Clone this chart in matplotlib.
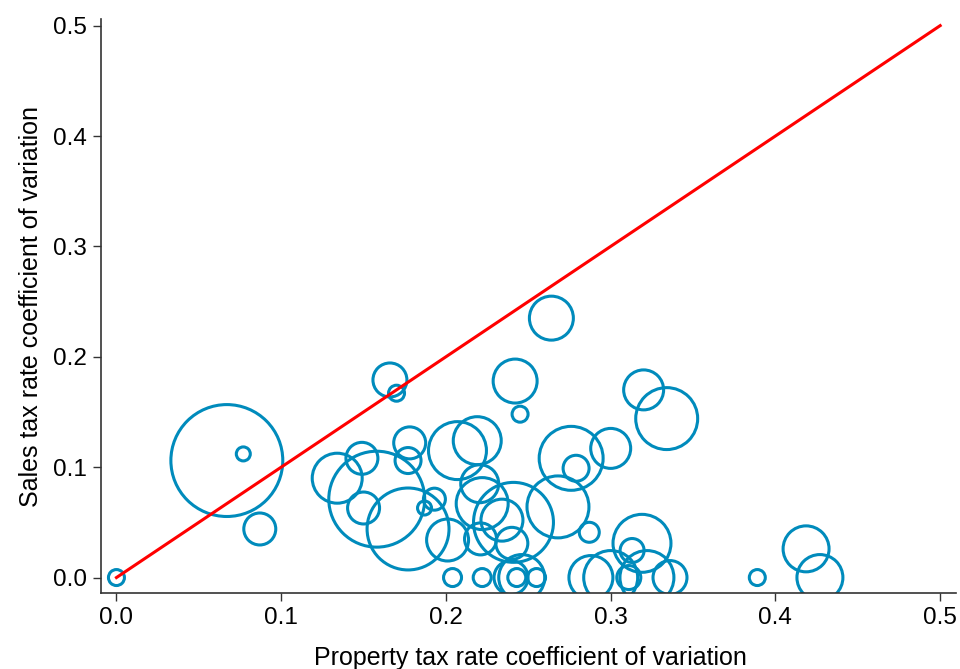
import matplotlib
matplotlib.use('Agg')
import matplotlib.pyplot as plt
import numpy as np

plt.rcParams['font.family'] = ['Liberation Sans', 'DejaVu Sans']

# property tax CV, sales tax CV, weight (bubble area)
prop_cv = [0.000, 0.067, 0.077, 0.087, 0.166, 0.170, 0.134, 0.149, 0.158, 0.150,
           0.177, 0.178, 0.177, 0.193, 0.187, 0.204, 0.201, 0.207, 0.264, 0.242,
           0.245, 0.320, 0.334, 0.219, 0.276, 0.300, 0.279, 0.2205, 0.222, 0.241,
           0.234, 0.268, 0.287, 0.221, 0.240, 0.319, 0.313, 0.222, 0.2395, 0.246,
           0.243, 0.255, 0.288, 0.300, 0.311, 0.322, 0.336, 0.389, 0.4186, 0.427]
sales_cv = [0.000, 0.106, 0.112, 0.044, 0.179, 0.167, 0.090, 0.108, 0.071, 0.063,
            0.044, 0.122, 0.106, 0.071, 0.063, 0.000, 0.034, 0.115, 0.235, 0.178,
            0.148, 0.170, 0.144, 0.124, 0.108, 0.117, 0.099, 0.085, 0.067, 0.050,
            0.052, 0.064, 0.041, 0.035, 0.031, 0.031, 0.0245, 0.000, 0.000, 0.000,
            0.000, 0.000, 0.000, 0.000, 0.000, 0.000, 0.000, 0.000, 0.026, 0.000]
weight = [64, 3136, 49, 256, 289, 64, 625, 256, 2304, 256,
          1681, 256, 169, 121, 49, 81, 441, 841, 484, 484,
          64, 400, 961, 576, 1024, 400, 169, 361, 676, 1600,
          441, 961, 100, 256, 256, 841, 144, 81, 289, 529,
          81, 81, 484, 729, 144, 729, 289, 64, 529, 529]

ticks = [0.0, 0.1, 0.2, 0.3, 0.4, 0.5]

fig = plt.figure(figsize=(9.6, 6.69), dpi=100)
ax = fig.add_axes([0.105, 0.1136, 0.891, 0.858])

sizes = np.array(weight) * 2.07
ax.scatter(prop_cv, sales_cv, s=sizes, facecolors='none', edgecolors='#008bbc',
           linewidths=2.2, zorder=2)
ax.plot([0, 0.5], [0, 0.5], color='#ff0000', lw=2.2, zorder=3)

ax.set_xlim(-0.0095, 0.5097)
ax.set_ylim(-0.014, 0.506)
ax.set_xticks(ticks)
ax.set_yticks(ticks)
ax.set_xticklabels(['%.1f' % t for t in ticks])
ax.set_yticklabels(['%.1f' % t for t in ticks])
ax.tick_params(direction='out', length=6, width=1, labelsize=17.5, pad=4, color='#333333')

for s in ['top', 'right']:
    ax.spines[s].set_visible(False)
for s in ['left', 'bottom']:
    ax.spines[s].set_linewidth(1.2)
    ax.spines[s].set_color('#333333')

ax.set_xlabel('Property tax rate coefficient of variation', fontsize=18)
ax.set_ylabel('Sales tax rate coefficient of variation', fontsize=18)
ax.xaxis.set_label_coords(0.502, -0.093)
ax.yaxis.set_label_coords(-0.068, 0.5)

fig.savefig('out.png', dpi=100)
